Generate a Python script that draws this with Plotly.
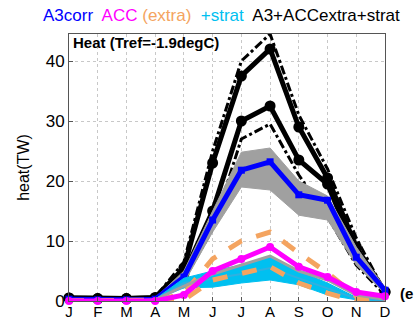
import plotly.graph_objects as go

months = [1, 2, 3, 4, 5, 6, 7, 8, 9, 10, 11, 12]
month_labels = ['J', 'F', 'M', 'A', 'M', 'J', 'J', 'A', 'S', 'O', 'N', 'D']

# black (A3+ACCextra+strat)
black_upper = [0.5, 0.4, 0.4, 0.6, 5.5, 23, 37.5, 42, 29, 20.5, 9, 1.5]
black_mid = [0.5, 0.4, 0.4, 0.5, 4.5, 15, 30, 32.5, 23.5, 19.5, 8, 1.5]
dd_upper = [0.5, 0.4, 0.4, 0.6, 6.5, 25, 40, 44.5, 31, 22, 10.5, 1.5]
dd_lower = [0.5, 0.4, 0.4, 0.5, 3.5, 12, 27, 29.5, 21, 14, 6, 1]
# A3corr
blue = [0.3, 0.2, 0.2, 0.3, 4, 13.5, 21.8, 23.2, 17.7, 16.8, 7.3, 1.8]
gray_hi = [0.4, 0.3, 0.3, 0.5, 5, 15, 24.8, 25.5, 20, 17.5, 9, 2.2]
gray_lo = [0.2, 0.1, 0.1, 0.2, 3, 11.5, 19, 18.5, 14.3, 13.5, 6, 1.2]
# ACC
magenta = [0, 0, 0, 0, 1, 5, 7, 9, 5.7, 4, 1.5, 0.8]
# extra
orange_hi = [0, 0, 0, 0, 1.3, 7, 10, 11.5, 8, 4.7, 0.8, 0]
orange_lo = [0, 0, 0, 0, 0.2, 3.5, 4.7, 5.7, 3, 1.3, 0, 0]
# strat
cyan_hi = [0, 0, 0, 0.3, 3.8, 5, 6, 7.5, 5, 3, 0.6, 0.2]
cyan_lo = [0, 0, 0, 0.2, 2.2, 2.3, 3, 3.5, 2.7, 1, 0.2, 0]
cyan_mid = [0, 0, 0, 0.2, 3, 3.7, 4.5, 5.5, 3.8, 2, 0.4, 0.1]
gray_line = [0, 0, 0, 0.2, 2.5, 4.5, 6, 7.5, 5, 3.5, 1, 0.3]

BLUE = '#0000ff'
MAG = '#ff00ff'
ORA = '#f4a460'
CYA = '#00c0f0'
GRY = '#a0a0a0'

fig = go.Figure()

def band(lo, hi, color):
    fig.add_trace(go.Scatter(x=months, y=hi, mode='lines', line=dict(color=color, width=1), hoverinfo='skip'))
    fig.add_trace(go.Scatter(x=months, y=lo, mode='lines', line=dict(color=color, width=1), fill='tonexty', fillcolor=color, hoverinfo='skip'))

# black lines
for d in (dd_upper, dd_lower):
    fig.add_trace(go.Scatter(x=months, y=d, mode='lines', line=dict(color='black', width=3, dash='dashdot')))
for d in (black_upper, black_mid):
    fig.add_trace(go.Scatter(x=months, y=d, mode='lines+markers', line=dict(color='black', width=5),
                             marker=dict(color='black', size=11)))

band(gray_lo, gray_hi, GRY)
fig.add_trace(go.Scatter(x=months, y=blue, mode='lines+markers', line=dict(color=BLUE, width=5),
                         marker=dict(color=BLUE, size=7, symbol='square')))

band(cyan_lo, cyan_hi, CYA)
fig.add_trace(go.Scatter(x=months, y=cyan_mid, mode='lines', line=dict(color='#30b0e0', width=2)))
for d in (orange_hi, orange_lo):
    fig.add_trace(go.Scatter(x=months, y=d, mode='lines', line=dict(color=ORA, width=5, dash='dash')))
fig.add_trace(go.Scatter(x=months, y=gray_line, mode='lines', line=dict(color=GRY, width=3)))
fig.add_trace(go.Scatter(x=months, y=magenta, mode='lines+markers', line=dict(color=MAG, width=5),
                         marker=dict(color=MAG, size=8)))

fig.update_traces(cliponaxis=False)

axis_common = dict(showline=True, linecolor='#555', linewidth=1, mirror=True, automargin=False,
                   showgrid=True, gridcolor='#c8c8c8', griddash='dot', gridwidth=1,
                   zeroline=False, ticks='inside', ticklen=4, tickcolor='#555')

fig.update_xaxes(range=[1, 12], tickmode='array', tickvals=months, ticktext=month_labels,
                 tickfont=dict(family='Liberation Sans, Arial', size=15, color='black'),
                 ticklabelstandoff=-3, **axis_common)
fig.update_yaxes(range=[0, 44.5], tickmode='array', tickvals=[0, 10, 20, 30, 40],
                 tickfont=dict(family='Liberation Sans, Arial', size=17, color='black'),
                 title=dict(text='heat(TW)', font=dict(family='Liberation Sans, Arial', size=16, color='black'), standoff=12),
                 **axis_common)

fig.update_layout(
    width=416, height=322,
    margin=dict(l=69, r=31, t=34, b=21, autoexpand=False),
    paper_bgcolor='white', plot_bgcolor='white',
    showlegend=False,
    font=dict(family='Liberation Sans, Arial', color='black'),
    annotations=[
        dict(xref='paper', yref='paper', x=-28/316, y=1 + 19/267, xanchor='left', yanchor='middle', showarrow=False,
             text=("<span style='color:#0000ff'>A3corr</span>  "
                   "<span style='color:#ff00ff'>ACC</span> "
                   "<span style='color:#f4a460'>(extra)</span>  "
                   "<span style='color:#00c0f0'>+strat</span>  "
                   "<span style='color:#000000'>A3+ACCextra+strat</span>"),
             font=dict(size=17, family='Liberation Sans, Arial')),
        dict(xref='paper', yref='paper', x=2/316, y=1 - 9/267, xanchor='left', yanchor='middle', showarrow=False,
             text='<b>Heat (Tref=-1.9degC)</b>', font=dict(size=15, family='Liberation Sans, Arial')),
        dict(xref='paper', yref='paper', x=1 + 13/316, y=8/267, xanchor='left', yanchor='middle', showarrow=False,
             text='<b>(e</b>', font=dict(size=15, family='Liberation Sans, Arial')),
    ],
)

fig.write_html('out.html')
